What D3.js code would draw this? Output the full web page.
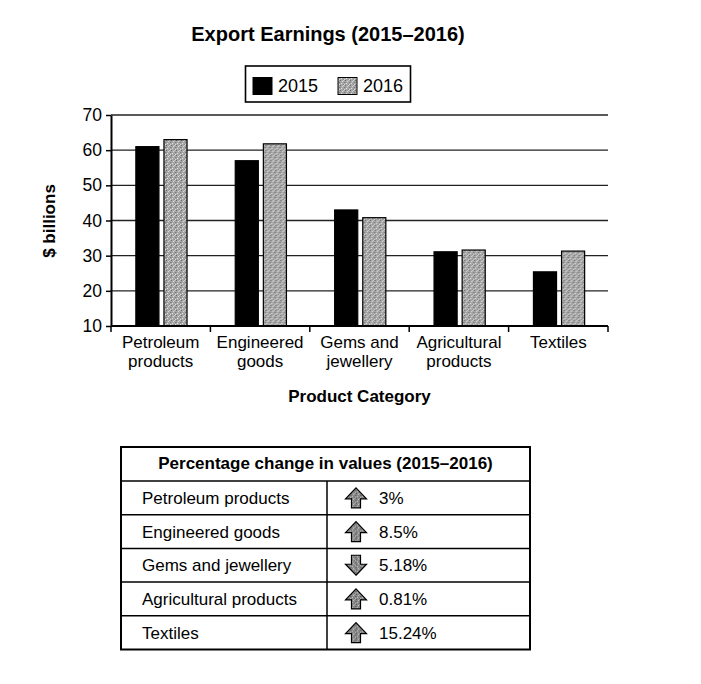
<!DOCTYPE html>
<html>
<head>
<meta charset="utf-8">
<script src="https://cdn.jsdelivr.net/npm/d3@7"></script>
<style>
body{margin:0;background:#fff;}
svg text{font-family:"Liberation Sans",Arial,sans-serif;fill:#000;}
</style>
</head>
<body>
<div id="chart"></div>
<script>
// export earnings, $ billions
var categories = ['Petroleum products','Engineered goods','Gems and jewellery','Agricultural products','Textiles'];
var catLines = [['Petroleum','products'],['Engineered','goods'],['Gems and','jewellery'],['Agricultural','products'],['Textiles']];
var years = ['2015','2016'];
var values2015 = [61, 57, 43, 31.1, 25.4];
var values2016 = [63, 61.8, 40.8, 31.6, 31.3];
var yTicks = [10,20,30,40,50,60,70];

// table
var changePct = [3, 8.5, -5.18, 0.81, 15.24];
var changeLabels = ['3%','8.5%','5.18%','0.81%','15.24%'];

var W = 701, H = 684;

var svg = d3.select('#chart').append('svg')
	.attr('width',W)
	.attr('height',H);

// speckled grey fills
var defs = svg.append('defs');
function speckle(id, base, dots){
	var pat = defs.append('pattern')
		.attr('id',id)
		.attr('width',5).attr('height',5)
		.attr('patternUnits','userSpaceOnUse');
	pat.append('rect').attr('width',5).attr('height',5).attr('fill',base);
	dots.forEach(function(p){
		pat.append('rect').attr('x',p[0]).attr('y',p[1]).attr('width',1).attr('height',1).attr('fill',p[2]);
	});
}
speckle('speck','#a6a6a6',[[0,0,'#6e6e6e'],[2,1,'#d8d8d8'],[4,2,'#7a7a7a'],[1,3,'#e2e2e2'],[3,4,'#888'],[3,0,'#cfcfcf'],[0,2,'#959595'],[4,4,'#dcdcdc']]);
speckle('speckDark','#8a8a8a',[[0,0,'#555'],[2,1,'#c4c4c4'],[4,2,'#606060'],[1,3,'#bcbcbc'],[3,4,'#666'],[3,0,'#aaa'],[0,2,'#707070'],[4,4,'#b5b5b5']]);

var x = d3.scaleBand().domain(categories).range([111,608]);
var xSub = d3.scaleBand().domain(years)
	.range([x.bandwidth()*0.25, x.bandwidth()*0.765])
	.paddingInner(5/28);
var y = d3.scaleLinear().domain([10,70]).range([326,115]);

var fills = {'2015':'#000','2016':'url(#speck)'};

// title
svg.append('text')
	.attr('x',328).attr('y',41)
	.attr('text-anchor','middle')
	.style('font-size','20px').style('font-weight','bold')
	.text('Export Earnings (2015\u20132016)');

// legend
var leg = svg.append('g');
leg.append('rect')
	.attr('x',245.5).attr('y',66).attr('width',165).attr('height',36)
	.attr('fill','none').attr('stroke','#000').attr('stroke-width',1.6);
years.forEach(function(yr,i){
	var lx = 253 + i*85;
	leg.append('rect')
		.attr('x',lx).attr('y',77.5).attr('width',19).attr('height',17)
		.attr('fill',fills[yr]).attr('stroke','#000').attr('stroke-width',1);
	leg.append('text')
		.attr('x',lx+25).attr('y',92)
		.style('font-size','18px')
		.text(yr);
});

// gridlines
svg.append('g').selectAll('line')
	.data(yTicks.slice(1))
	.enter().append('line')
	.attr('x1',111).attr('x2',608)
	.attr('y1',function(d){return y(d)})
	.attr('y2',function(d){return y(d)})
	.attr('stroke','#222').attr('stroke-width',1.3);

// bars
var rows = categories.map(function(c,i){ return {cat:c, v:[values2015[i],values2016[i]]}; });
var groups = svg.append('g').selectAll('g')
	.data(rows)
	.enter().append('g')
	.attr('transform',function(d){return 'translate('+x(d.cat)+',0)'});
groups.selectAll('rect')
	.data(function(d){ return d.v.map(function(v,j){ return {yr:years[j], v:v}; }); })
	.enter().append('rect')
	.attr('x',function(d){return xSub(d.yr)})
	.attr('y',function(d){return y(d.v)})
	.attr('width',xSub.bandwidth())
	.attr('height',function(d){return y(10)-y(d.v)})
	.attr('fill',function(d){return fills[d.yr]})
	.attr('stroke','#000').attr('stroke-width',1.2);

// y axis
var yAxis = svg.append('g')
	.attr('transform','translate(111,0)')
	.call(d3.axisLeft(y).tickValues(yTicks).tickSize(5).tickPadding(4).tickSizeOuter(0));
yAxis.select('.domain').attr('stroke','#000').attr('stroke-width',2);
yAxis.selectAll('.tick line').attr('stroke','#000').attr('stroke-width',1.5);
yAxis.selectAll('text').style('font-size','17.5px').style('font-family','"Liberation Sans",Arial,sans-serif');

// x axis
svg.append('line')
	.attr('x1',111).attr('x2',608).attr('y1',326).attr('y2',326)
	.attr('stroke','#000').attr('stroke-width',2);
var bounds = categories.map(function(c){return x(c)}).concat([x.range()[1]]);
svg.append('g').selectAll('line')
	.data(bounds)
	.enter().append('line')
	.attr('x1',function(d){return d}).attr('x2',function(d){return d})
	.attr('y1',326).attr('y2',332)
	.attr('stroke','#000').attr('stroke-width',1.5);

var xl = svg.append('g').selectAll('text')
	.data(categories)
	.enter().append('text')
	.attr('text-anchor','middle')
	.attr('x',function(d){return x(d)+x.bandwidth()/2})
	.attr('y',348)
	.style('font-size','17px');
xl.selectAll('tspan')
	.data(function(d,i){return catLines[i]})
	.enter().append('tspan')
	.attr('x',function(){return +d3.select(this.parentNode).attr('x')})
	.attr('dy',function(d,i){return i ? 18.5 : 0})
	.text(function(d){return d});

svg.append('text')
	.attr('x',359.5).attr('y',402)
	.attr('text-anchor','middle')
	.style('font-size','17px').style('font-weight','bold')
	.text('Product Category');

svg.append('text')
	.attr('transform','translate(55,221) rotate(-90)')
	.attr('text-anchor','middle')
	.style('font-size','17px').style('font-weight','bold')
	.text('$ billions');

// table
var tX0 = 121, tX1 = 530, tMid = 327, tY0 = 447, hdrH = 34, rowH = 33.7;
var tbl = svg.append('g');
tbl.append('text')
	.attr('x',(tX0+tX1)/2).attr('y',tY0+22)
	.attr('text-anchor','middle')
	.style('font-size','17px').style('font-weight','bold')
	.text('Percentage change in values (2015\u20132016)');

var tRows = tbl.selectAll('g.row')
	.data(categories)
	.enter().append('g')
	.attr('class','row')
	.attr('transform',function(d,i){return 'translate(0,'+(tY0+hdrH+i*rowH)+')'});
tRows.append('line')
	.attr('x1',tX0).attr('x2',tX1).attr('y1',0).attr('y2',0)
	.attr('stroke','#000').attr('stroke-width',1.5);
tRows.append('text')
	.attr('x',142).attr('y',23)
	.style('font-size','17px')
	.text(function(d){return d});
tRows.append('text')
	.attr('x',379).attr('y',23)
	.style('font-size','17px')
	.text(function(d,i){return changeLabels[i]});
tRows.append('path')
	.attr('transform',function(d,i){
		return 'translate(356,'+(rowH/2)+')'+(changePct[i] < 0 ? ' scale(1,-1)' : '');
	})
	.attr('d','M0,-10 L10.5,1 L4.5,1 L4.5,10 L-4.5,10 L-4.5,1 L-10.5,1 Z')
	.attr('fill','url(#speckDark)')
	.attr('stroke','#000').attr('stroke-width',1.2);

tbl.append('line')
	.attr('x1',tMid).attr('x2',tMid)
	.attr('y1',tY0+hdrH).attr('y2',tY0+hdrH+rowH*categories.length)
	.attr('stroke','#000').attr('stroke-width',1.5);
tbl.append('rect')
	.attr('x',tX0).attr('y',tY0)
	.attr('width',tX1-tX0).attr('height',hdrH+rowH*categories.length)
	.attr('fill','none').attr('stroke','#000').attr('stroke-width',2);
</script>
</body>
</html>
